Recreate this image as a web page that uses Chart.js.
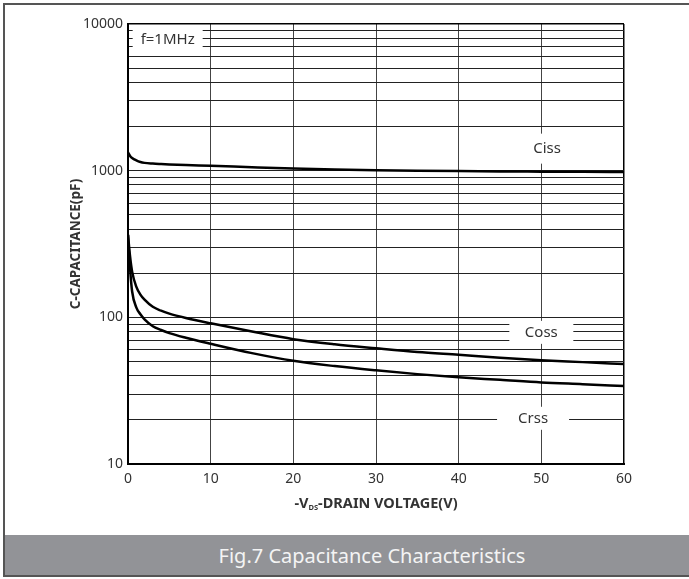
<!DOCTYPE html>
<html lang="en">
<head>
  <meta charset="UTF-8">
  <title>Fig.7 Capacitance Characteristics</title>
  <script src="https://cdn.jsdelivr.net/npm/chart.js"></script>
  <style>
    body {
      margin: 0;
      background: #fff;
      font-family: "Noto Sans", sans-serif;
    }
    .frame {
      position: relative;
      width: 689px;
      height: 579px;
      overflow: hidden;
    }
    .border {
      position: absolute;
      left: 3px;
      top: 3px;
      width: 700px;
      height: 574px;
      border: 2px solid #555;
      box-sizing: border-box;
      pointer-events: none;
    }
    #chart {
      position: absolute;
      left: 0;
      top: 0;
    }
    .caption {
      position: absolute;
      left: 5px;
      top: 535px;
      width: 684px;
      height: 42px;
      background: #929397;
      color: #f4f4f4;
      font-size: 20px;
      line-height: 42px;
      text-align: center;
      box-sizing: border-box;
      padding-left: 50px;
    }
  </style>
</head>
<body>
  <div class="frame">
    <canvas id="chart" width="689" height="535"></canvas>
    <div class="caption">Fig.7 Capacitance Characteristics</div>
    <div class="border"></div>
  </div>
  <script>
    // -VDS (V)
    const voltage = [0, 0.25, 0.5, 1, 1.5, 2, 3, 4, 5, 7, 10, 15, 20, 25, 30, 35, 40, 45, 50, 55, 60];
    // capacitance (pF)
    const ciss = [1330, 1260, 1220, 1175, 1145, 1130, 1118, 1110, 1103, 1092, 1080, 1055, 1033, 1018, 1007, 999, 993, 988, 985, 982, 980];
    const coss = [365, 260, 205, 162, 143, 132, 118, 111, 106, 99, 91, 80, 71, 65.5, 61.5, 58, 55.5, 53, 51, 49.5, 48];
    const crss = [365, 215, 150, 117, 105, 97, 87, 82, 78, 72.5, 66, 57, 50.5, 46.5, 43.5, 41, 39, 37.5, 36, 35, 34];

    const xTicks = [0, 10, 20, 30, 40, 50, 60];
    const yLabels = [10, 100, 1000, 10000];

    // curve names placed on the plot (data coords)
    const notes = [
      { text: 'f=1MHz', x: 4.8, y: 7840, w: 70, h: 23 },
      { text: 'Ciss', x: 50.7, y: 1413, w: 34, h: 30 },
      { text: 'Coss', x: 50, y: 79, w: 64, h: 23 },
      { text: 'Crss', x: 49, y: 20.5, w: 72, h: 23 }
    ];

    const yGrid = [];
    yLabels.slice(0, -1).forEach(d => {
      for (let m = 1; m < 10; m++) yGrid.push(d * m);
    });
    yGrid.push(10000);

    function series(vals) {
      return vals.map((v, i) => ({ x: voltage[i], y: v }));
    }

    const textColor = '#333';

    const overlay = {
      id: 'overlay',
      beforeDatasetsDraw(chart) {
        const ctx = chart.ctx;
        const xs = chart.scales.x, ys = chart.scales.y;
        ctx.save();
        ctx.font = '15px "Noto Sans"';
        ctx.textAlign = 'center';
        ctx.textBaseline = 'middle';
        notes.forEach(n => {
          const px = xs.getPixelForValue(n.x);
          const py = ys.getPixelForValue(n.y);
          ctx.fillStyle = '#fff';
          ctx.fillRect(px - n.w / 2, py - n.h / 2, n.w, n.h);
          ctx.fillStyle = textColor;
          ctx.fillText(n.text, px, py);
        });
        ctx.restore();
      },
      afterDraw(chart) {
        const ctx = chart.ctx;
        const a = chart.chartArea;
        ctx.save();
        ctx.fillStyle = textColor;
        ctx.textBaseline = 'middle';

        // y title
        ctx.font = 'bold 13.5px "Noto Sans"';
        ctx.translate(76, (a.top + a.bottom) / 2);
        ctx.rotate(-Math.PI / 2);
        ctx.textAlign = 'center';
        ctx.fillText('C-CAPACITANCE(pF)', 0, 0);
        ctx.setTransform(1, 0, 0, 1, 0, 0);

        // x title with subscript
        const big = 'bold 14.5px "Noto Sans"';
        const small = 'bold 7.5px "Noto Sans"';
        const parts = [['-V', big, 0], ['DS', small, 3.5], ['-DRAIN VOLTAGE(V)', big, 0]];
        let total = 0;
        parts.forEach(p => { ctx.font = p[1]; total += ctx.measureText(p[0]).width; });
        let x = (a.left + a.right) / 2 - total / 2;
        const y = 504;
        ctx.textAlign = 'left';
        parts.forEach(p => {
          ctx.font = p[1];
          ctx.fillText(p[0], x, y + p[2]);
          x += ctx.measureText(p[0]).width;
        });
        ctx.restore();
      }
    };

    new Chart(document.getElementById('chart'), {
      type: 'line',
      data: {
        datasets: [
          { label: 'Ciss', data: series(ciss) },
          { label: 'Coss', data: series(coss) },
          { label: 'Crss', data: series(crss) }
        ]
      },
      options: {
        responsive: false,
        animation: false,
        devicePixelRatio: 1,
        layout: { autoPadding: false, padding: { top: 24, right: 65, left: 0, bottom: 0 } },
        elements: {
          point: { radius: 0 },
          line: { borderColor: '#000', borderWidth: 2.5, tension: 0.4, cubicInterpolationMode: 'monotone' }
        },
        plugins: { legend: { display: false }, tooltip: { enabled: false } },
        scales: {
          x: {
            type: 'linear',
            min: 0,
            max: 60,
            afterBuildTicks(s) { s.ticks = xTicks.map(v => ({ value: v })); },
            afterFit(s) { s.height = 71; },
            grid: {
              drawTicks: false,
              color: c => (c.tick && c.tick.value === 60 ? '#000' : '#444'),
              lineWidth: c => (c.tick && c.tick.value === 60 ? 1.5 : 1)
            },
            border: { color: '#000', width: 2 },
            ticks: { color: textColor, font: { family: 'Noto Sans', size: 14 }, padding: 7, maxRotation: 0 }
          },
          y: {
            type: 'logarithmic',
            min: 10,
            max: 10000,
            afterBuildTicks(s) { s.ticks = yGrid.map(v => ({ value: v })); },
            afterFit(s) { s.width = 128; },
            grid: {
              drawTicks: false,
              color: c => (c.tick && c.tick.value === 10000 ? '#000' : '#222'),
              lineWidth: c => (c.tick && c.tick.value === 10000 ? 1.5 : 1)
            },
            border: { color: '#000', width: 2 },
            ticks: {
              color: textColor,
              font: { family: 'Noto Sans', size: 14 },
              padding: 5,
              autoSkip: false,
              callback: v => (yLabels.includes(v) ? String(v) : '')
            }
          }
        }
      },
      plugins: [overlay]
    });
  </script>
</body>
</html>
